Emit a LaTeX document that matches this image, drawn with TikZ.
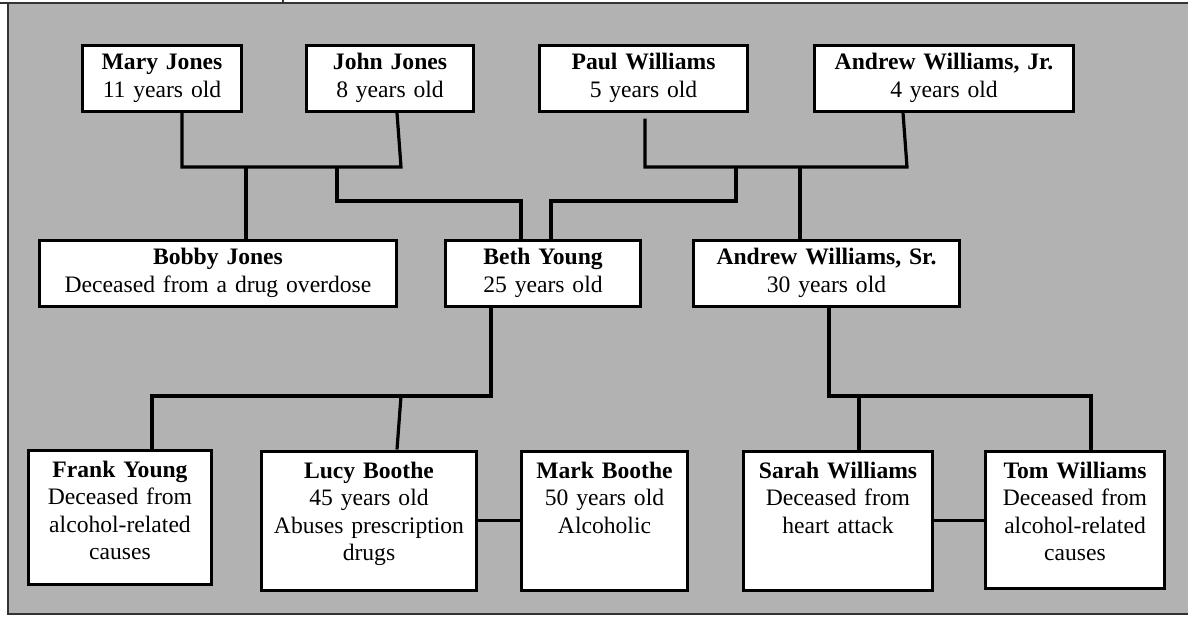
\documentclass[tikz,border=0pt]{standalone}
\usepackage{fontspec}
\setmainfont{Liberation Serif}
\usetikzlibrary{calc}

\begin{document}
\begin{tikzpicture}[x=1pt,y=-1pt,
        person/.style={draw, line width=3.2pt, fill=white, inner xsep=0pt, inner ysep=5pt,
            text width=#1, align=center, anchor=north, font=\fontsize{23.6}{27.5}\selectfont},
        young/.style={text height=19.5pt, text depth=36.5pt},
        old/.style={text height=22pt, text depth=#1},
        link/.style={line width=3.2pt}]
        \useasboundingbox (0,0) rectangle (1188,616);
        \fill[black!30] (8,3) rectangle (1188,614);
        \draw[black!80, line width=1.5pt] (0,3) -- (1188,3) (283,0) -- (283,3) (8,3) -- (8,614) -- (1188,614);

        \node[person=159pt, young] (mary) at (162,43.5) {\textbf{Mary Jones}\\11 years old};
        \node[person=167pt, young] (john) at (390,43.5) {\textbf{John Jones}\\8 years old};
        \node[person=208pt, young] (paul) at (643.5,43.5) {\textbf{Paul Williams}\\5 years old};
        \node[person=259pt, young] (andjr) at (944,43.5) {\textbf{Andrew Williams, Jr.}\\4 years old};

        \node[person=357.5pt, young] (bobby) at (218,238.5) {\textbf{Bobby Jones}\\Deceased from a drug overdose};
        \node[person=195pt, young] (beth) at (543,238.5) {\textbf{Beth Young}\\25 years old};
        \node[person=266pt, young] (andsr) at (826.5,238.5) {\textbf{Andrew Williams, Sr.}\\30 years old};

        \node[person=182.5pt, old=102pt] (frank) at (120,448.5) {\textbf{Frank Young}\\Deceased from\\alcohol-related\\causes};
        \node[person=215.5pt, old=107pt] (lucy) at (369,449.5) {\textbf{Lucy Boothe}\\45 years old\\Abuses prescription\\drugs};
        \node[person=166pt, old=107pt] (mark) at (604.5,449.5) {\textbf{Mark Boothe}\\50 years old\\Alcoholic};
        \node[person=189pt, old=107pt] (sarah) at (838,449.5) {\textbf{Sarah Williams}\\Deceased from\\heart attack};
        \node[person=178.5pt, old=105pt] (tom) at (1075,449.5) {\textbf{Tom Williams}\\Deceased from\\alcohol-related\\causes};

        % family bars
        \coordinate (jr) at (401,167);
        \coordinate (jb) at (246,167);
        \coordinate (jc) at (337,167);
        \coordinate (wr) at (907,167);
        \coordinate (wc) at (736,167);
        \coordinate (wb) at (800,167);
        \coordinate (yl) at (152,396);
        \coordinate (yr) at (401,396);
        \coordinate (sl) at (859,396);
        \coordinate (sr) at (1091,396);

        \draw[link] ($(mary.south)+(20,0)$) |- (jr) -- ($(john.south)+(7,0)$);
        \draw[link] (jb) -- (jb |- bobby.north);
        \draw[link] (jc) -- ++(0,34) -| ($(beth.north)+(-22,0)$);
        \draw[link] ($(paul.south)+(1.5,6)$) |- (wr) -- ($(andjr.south)+(-41,0)$);
        \draw[link] (wc) -- ++(0,34) -| ($(beth.north)+(8,0)$);
        \draw[link] (wb) -- (wb |- andsr.north);

        \draw[link] ($(beth.south)+(-52,0)$) |- (yl) -- (yl |- frank.north);
        \draw[link] (yr) -- ($(lucy.north)+(28,0)$);
        \draw[link] ($(andsr.south)+(2.5,0)$) |- (sr) -- (sr |- tom.north);
        \draw[link] (sl) -- (sl |- sarah.north);
        \draw[link] (lucy.east) -- (mark.west);
        \draw[link] (sarah.east) -- (sarah.east -| tom.west);
    \end{tikzpicture}
\end{document}
